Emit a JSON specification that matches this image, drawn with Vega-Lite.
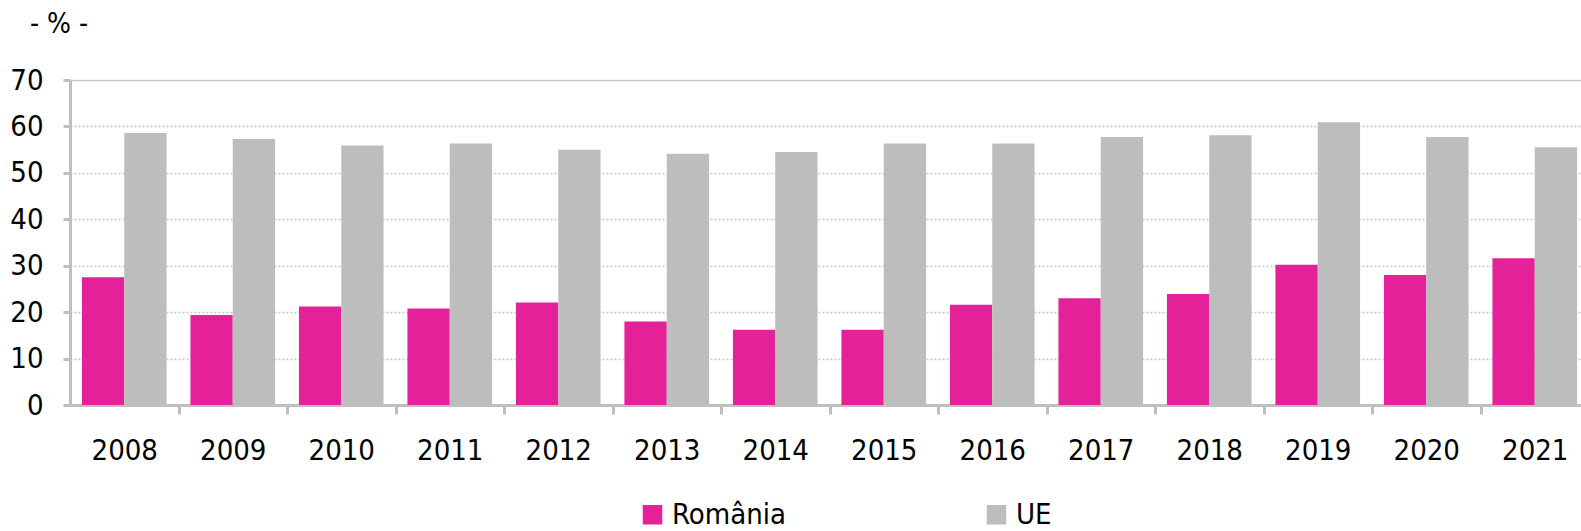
{
  "$schema": "https://vega.github.io/schema/vega-lite/v6.json",
  "width": 1519,
  "height": 325,
  "autosize": {"type": "none"},
  "padding": {"left": 70, "top": 80, "right": 0, "bottom": 126},
  "background": "white",
  "title": {"text": "- % -", "anchor": "start", "frame": "group", "dx": -40, "offset": 27, "fontSize": 28, "font": "DejaVu Sans Condensed, Liberation Sans Narrow, DejaVu Sans", "fontWeight": "normal", "color": "#000000"},
  "config": {"view": {"stroke": null}, "font": "DejaVu Sans Condensed, Liberation Sans Narrow, DejaVu Sans"},
  "data": {"values": [
    {"year": "2008", "serie": "România", "value": 27.5},
    {"year": "2009", "serie": "România", "value": 19.4},
    {"year": "2010", "serie": "România", "value": 21.2},
    {"year": "2011", "serie": "România", "value": 20.8},
    {"year": "2012", "serie": "România", "value": 22.1},
    {"year": "2013", "serie": "România", "value": 18.0},
    {"year": "2014", "serie": "România", "value": 16.2},
    {"year": "2015", "serie": "România", "value": 16.2},
    {"year": "2016", "serie": "România", "value": 21.6},
    {"year": "2017", "serie": "România", "value": 23.0},
    {"year": "2018", "serie": "România", "value": 23.9},
    {"year": "2019", "serie": "România", "value": 30.2},
    {"year": "2020", "serie": "România", "value": 28.0},
    {"year": "2021", "serie": "România", "value": 31.6},
    {"year": "2008", "serie": "UE", "value": 58.6},
    {"year": "2009", "serie": "UE", "value": 57.3},
    {"year": "2010", "serie": "UE", "value": 55.9},
    {"year": "2011", "serie": "UE", "value": 56.3},
    {"year": "2012", "serie": "UE", "value": 55.0},
    {"year": "2013", "serie": "UE", "value": 54.1},
    {"year": "2014", "serie": "UE", "value": 54.5},
    {"year": "2015", "serie": "UE", "value": 56.3},
    {"year": "2016", "serie": "UE", "value": 56.3},
    {"year": "2017", "serie": "UE", "value": 57.7},
    {"year": "2018", "serie": "UE", "value": 58.1},
    {"year": "2019", "serie": "UE", "value": 60.9},
    {"year": "2020", "serie": "UE", "value": 57.7},
    {"year": "2021", "serie": "UE", "value": 55.5}
  ]},
  "mark": {"type": "bar"},
  "encoding": {
    "x": {
      "field": "year", "type": "ordinal",
      "scale": {"paddingInner": 0.22, "paddingOuter": 0.11},
      "axis": {
        "title": null, "labelAngle": 0, "labelFontSize": 29, "labelColor": "#000000",
        "labelPadding": 22, "labelOffset": -54.25, "domainColor": "#BFBFBF", "domainWidth": 3,
        "tickColor": "#BFBFBF", "tickWidth": 3, "tickSize": 9, "tickOffset": 54.25,
        "grid": false
      }
    },
    "xOffset": {"field": "serie", "sort": ["România", "UE"]},
    "y": {
      "field": "value", "type": "quantitative",
      "scale": {"domain": [0, 70], "nice": false},
      "axis": {
        "title": null, "values": [0, 10, 20, 30, 40, 50, 60, 70],
        "labelFontSize": 29, "labelColor": "#000000", "labelPadding": 20,
        "domainColor": "#BFBFBF", "domainWidth": 3,
        "tickColor": "#BFBFBF", "tickWidth": 3, "tickSize": 7,
        "grid": true, "gridColor": "#C8C8C8", "gridWidth": 1.5,
        "gridDash": {"condition": {"test": "datum.value === 70", "value": []}, "value": [2, 2]}
      }
    },
    "color": {
      "field": "serie", "type": "nominal",
      "scale": {"domain": ["România", "UE"], "range": ["#E5219A", "#BDBDBD"]},
      "legend": {
        "title": null, "orient": "none", "legendX": 568, "legendY": 420,
        "direction": "horizontal", "symbolType": "square", "symbolSize": 380,
        "symbolStrokeWidth": 0, "labelFontSize": 29, "labelColor": "#000000",
        "labelOffset": 5, "columnPadding": 196, "labelLimit": 300
      }
    }
  }
}
